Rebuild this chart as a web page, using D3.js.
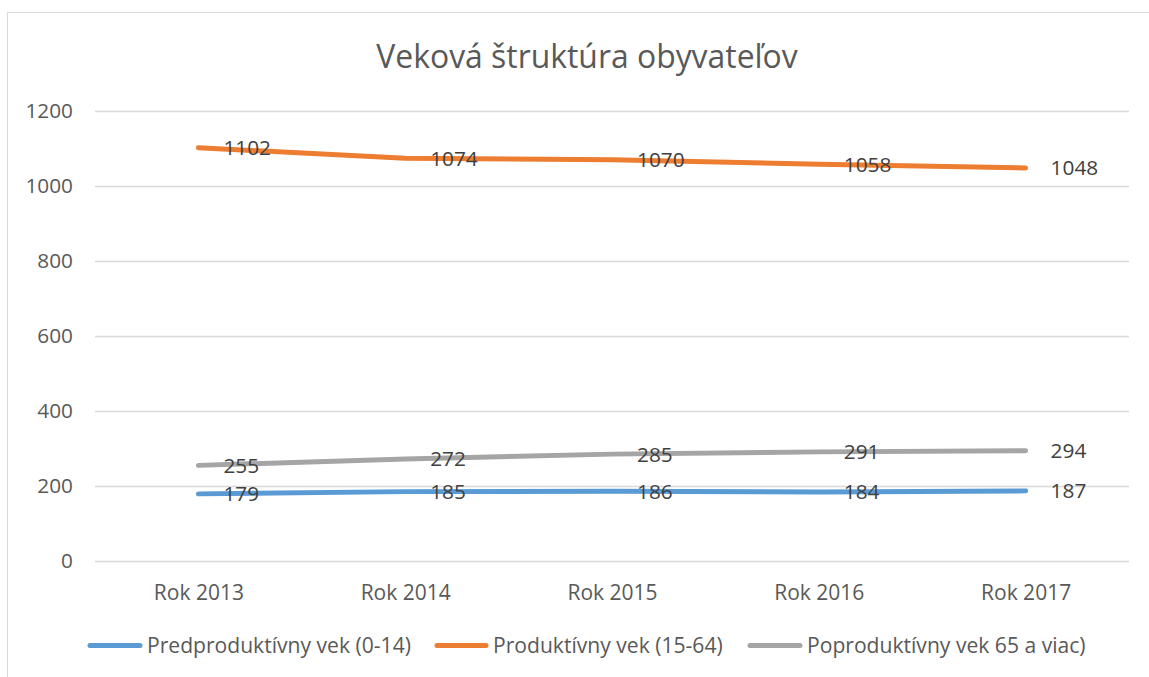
<!DOCTYPE html>
<html><head><meta charset="utf-8">
<script src="https://cdn.jsdelivr.net/npm/d3@7"></script>
<style>body{margin:0;background:#fff}svg{display:block}</style>
</head><body>
<svg id="c" width="1149" height="677"></svg>
<script>
const categories = ["Rok 2013","Rok 2014","Rok 2015","Rok 2016","Rok 2017"];
const predproduktivny = [179,185,186,184,187];
const produktivny = [1102,1074,1070,1058,1048];
const poproduktivny = [255,272,285,291,294];
const seriesNames = ["Predproduktívny vek (0-14)","Produktívny vek (15-64)","Poproduktívny vek 65 a viac)"];
const yTicks = [0,200,400,600,800,1000,1200];
const title = "Veková štruktúra obyvateľov";

const colors = ["#5B9BD5","#ED7D31","#A5A5A5"];
const seriesData = [predproduktivny, produktivny, poproduktivny];
const font = "'Open Sans', sans-serif";
const textCol = "#595959";

const svg = d3.select("#c");
svg.append("rect").attr("x",7.5).attr("y",12.5).attr("width",1160).attr("height",700)
  .attr("fill","#fff").attr("stroke","#d9d9d9");

const x = d3.scalePoint().domain(categories).range([95,1129]).padding(0.5);
const y = d3.scaleLinear().domain([0,1200]).range([561,111]);

svg.append("text").attr("x",587).attr("y",68).attr("text-anchor","middle")
  .attr("font-family",font).attr("font-size",31.9).attr("fill",textCol).text(title);

const grid = svg.append("g");
grid.selectAll("line").data(yTicks).join("line")
  .attr("x1",95).attr("x2",1129).attr("y1",d=>Math.round(y(d))+0.5).attr("y2",d=>Math.round(y(d))+0.5)
  .attr("stroke","#d9d9d9").attr("stroke-width",1.3);

const yAxis = svg.append("g").attr("transform","translate(73,0)")
  .call(d3.axisLeft(y).tickValues(yTicks).tickFormat(d3.format("d")).tickSize(0).tickPadding(0));
yAxis.select(".domain").remove();
yAxis.selectAll("text").attr("font-family",font).attr("font-size",20.8).attr("fill",textCol);

const xAxis = svg.append("g").attr("transform","translate(0,561)")
  .call(d3.axisBottom(x).tickSize(0).tickPadding(24));
xAxis.select(".domain").remove();
xAxis.selectAll("text").attr("font-family",font).attr("font-size",21).attr("fill",textCol);

const line = d3.line().x((d,i)=>x(categories[i])).y(d=>y(d));
seriesData.forEach((s,k)=>{
  svg.append("path").datum(s).attr("d",line).attr("fill","none")
    .attr("stroke",colors[k]).attr("stroke-width",5).attr("stroke-linecap","round").attr("stroke-linejoin","round");
});
seriesData.forEach((s,k)=>{
  svg.append("g").selectAll("text").data(s).join("text")
    .attr("x",(d,i)=>x(categories[i])+25).attr("y",d=>y(d)).attr("dy","0.36em")
    .attr("font-family",font).attr("font-size",20.8).attr("fill","#404040").text(d=>d);
});

const legendItems = [
  {lx:88, tx:147},
  {lx:435, tx:493},
  {lx:748, tx:807}
];
const lg = svg.append("g");
seriesNames.forEach((n,k)=>{
  lg.append("line").attr("x1",legendItems[k].lx+2).attr("x2",legendItems[k].tx-7).attr("y1",645.5).attr("y2",645.5)
    .attr("stroke",colors[k]).attr("stroke-width",5).attr("stroke-linecap","round");
  lg.append("text").attr("x",legendItems[k].tx).attr("y",645.5).attr("dy","0.36em")
    .attr("font-family",font).attr("font-size",21.1).attr("fill",textCol).text(n);
});
</script>
</body></html>
